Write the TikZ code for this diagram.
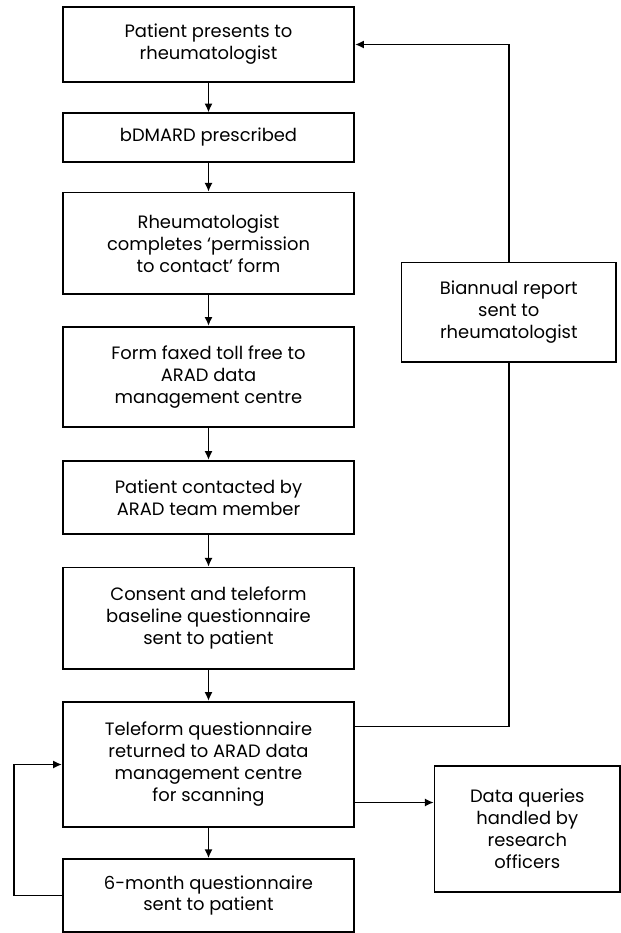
\documentclass[tikz,border=0pt]{standalone}
\usepackage{fontspec}
\setmainfont{Poppins}
\usetikzlibrary{arrows.meta}

\begin{document}
\begin{tikzpicture}[x=0.02cm,y=-0.02cm,>={Latex[length=5pt,width=4.6pt]},
    box/.style={draw,line width=1pt,align=center,inner sep=0pt,
      font=\fontsize{10.2}{12.5}\selectfont},
    main/.style={box,minimum width=5.83cm},
    link/.style={line width=0.9pt}]
  \useasboundingbox (0,0) rectangle (621,933);

  % main column
  \node[main,minimum height=1.49cm] (present) at (208.5,44.5) {Patient presents to\\rheumatologist};
  \node[main,minimum height=0.97cm] (bdmard) at (208.5,137.5) {bDMARD prescribed};
  \node[main,minimum height=2.03cm] (permission) at (208.5,243.3) {Rheumatologist\\completes `permission\\to contact' form};
  \node[main,minimum height=2.0cm] (faxed) at (208.5,376.7) {Form faxed toll free to\\ARAD data\\management centre};
  \node[main,minimum height=1.47cm] (contacted) at (208.5,497.5) {Patient contacted by\\ARAD team member};
  \node[main,minimum height=2.03cm] (consent) at (208.5,618.3) {Consent and teleform\\baseline questionnaire\\sent to patient};
  \node[main,minimum height=2.51cm] (returned) at (208.5,764.5) {Teleform questionnaire\\returned to ARAD data\\management centre\\for scanning};
  \node[main,minimum height=1.46cm] (sixmonth) at (208.5,895.5) {6-month questionnaire\\sent to patient};

  % side boxes
  \node[box,minimum width=4.29cm,minimum height=1.99cm] (report) at (508.8,312.2) {Biannual report\\sent to\\rheumatologist};
  \node[box,minimum width=3.71cm,minimum height=2.52cm] (queries) at (527.3,828.7) {Data queries\\handled by\\research\\officers};

  \draw[link,->] (present) -- (bdmard);
  \draw[link,->] (bdmard) -- (permission);
  \draw[link,->] (permission) -- (faxed);
  \draw[link,->] (faxed) -- (contacted);
  \draw[link,->] (contacted) -- (consent);
  \draw[link,->] (consent) -- (returned);
  \draw[link,->] (returned) -- (sixmonth);

  \draw[link] ([yshift=0.76cm]returned.east) -| (report.south);
  \draw[link,->] (report.north) |- (present.east);
  \draw[link,->] ([yshift=-0.76cm]returned.east) -- ([yshift=-0.76cm]returned.east -| queries.west);
  \draw[link,->] (sixmonth.west) -- ++(-48,0) |- (returned.west);
\end{tikzpicture}
\end{document}
